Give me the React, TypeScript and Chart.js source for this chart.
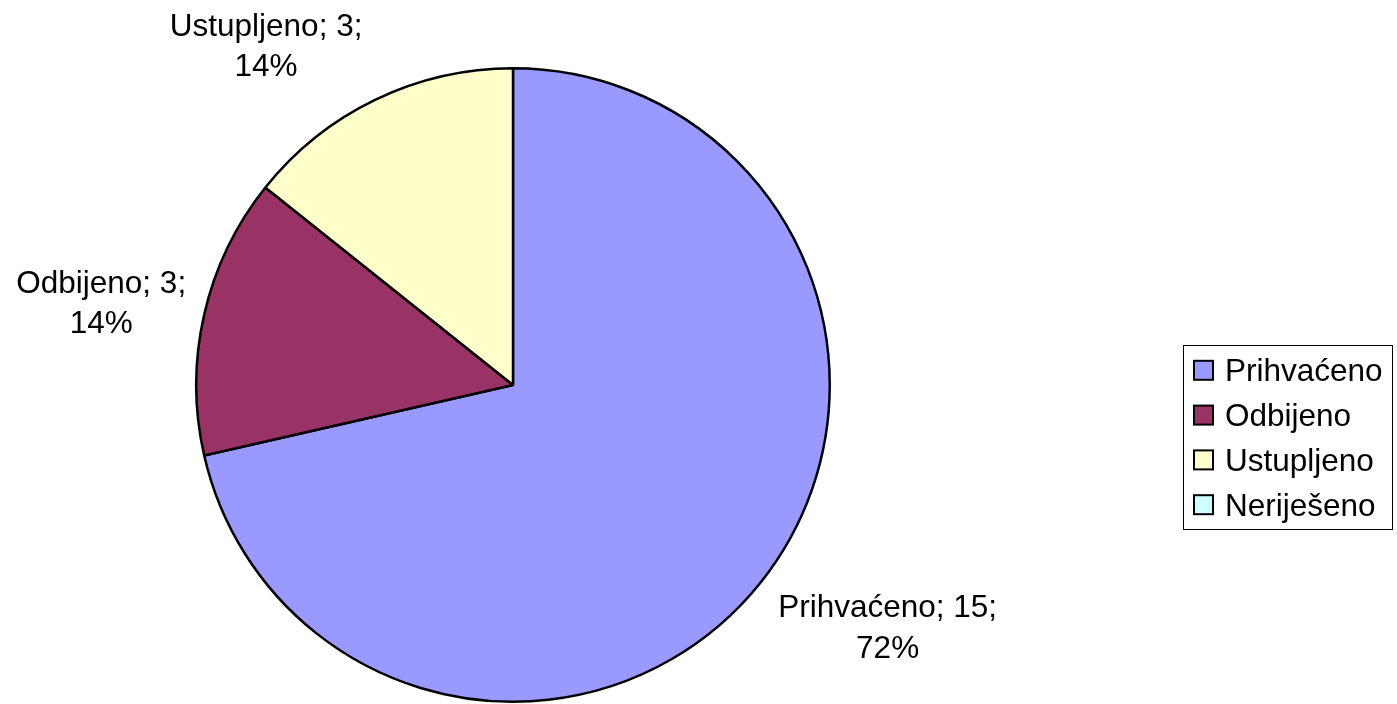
import React, { useEffect, useRef } from "react";
import { Chart, registerables } from "chart.js";

Chart.register(...registerables);

const categories = ["Prihvaćeno", "Odbijeno", "Ustupljeno", "Neriješeno"];
const counts = [15, 3, 3, 0];
const percents = [72, 14, 14, 0];
const colors = ["#9999FF", "#993366", "#FFFFCC", "#CCFFFF"];

// label placement (first-line baseline) relative to pie centre, in radius units
const labelOffsets: ([number, number] | null)[] = [
  [1.179, 0.731],
  [-1.296, -0.291],
  [-0.777, -1.099],
  null,
];

const FONT = '31.5px "Liberation Sans", Arial, sans-serif';

const labelsPlugin = {
  id: "sliceLabels",
  afterDraw(chart: any) {
    const ctx = chart.ctx;
    const meta = chart.getDatasetMeta(0);
    const arc0 = meta.data[0];
    if (!arc0) return;
    const cx = arc0.x;
    const cy = arc0.y;
    const r = arc0.outerRadius + 1;
    ctx.save();
    ctx.font = FONT;
    ctx.fillStyle = "#000";
    ctx.textAlign = "center";
    ctx.textBaseline = "alphabetic";
    categories.forEach((c, i) => {
      const off = labelOffsets[i];
      if (!off || counts[i] === 0) return;
      const x = cx + off[0] * r;
      const y = cy + off[1] * r;
      ctx.fillText(`${c}; ${counts[i]};`, x, y);
      ctx.fillText(`${percents[i]}%`, x, y + 40.5);
    });

    // legend
    const boxL = 1183.5, boxT = 345.5, boxW = 209, boxH = 184;
    ctx.lineWidth = 1;
    ctx.strokeStyle = "#000";
    ctx.strokeRect(boxL, boxT, boxW, boxH);
    ctx.textAlign = "left";
    categories.forEach((c, i) => {
      const yc = 370.3 + i * 44.8;
      ctx.fillStyle = colors[i];
      ctx.fillRect(1194, yc - 9.5, 19, 19);
      ctx.lineWidth = 2;
      ctx.strokeStyle = "#000";
      ctx.strokeRect(1194, yc - 9.5, 19, 19);
      ctx.fillStyle = "#000";
      ctx.fillText(c, 1225, yc + 11);
    });
    ctx.restore();
  },
};

export default function App() {
  const ref = useRef<HTMLCanvasElement | null>(null);
  useEffect(() => {
    document.body.style.margin = "0";
    const canvas = ref.current!;
    const chart = new Chart(canvas, {
      type: "pie",
      data: {
        labels: categories,
        datasets: [
          {
            data: counts,
            backgroundColor: colors,
            borderColor: "#000",
            borderWidth: 2.5,
          },
        ],
      },
      options: {
        responsive: false,
        animation: false,
        devicePixelRatio: 1,
        layout: { padding: { left: 195, right: 566, top: 67, bottom: 1 } },
        plugins: {
          legend: { display: false },
          tooltip: { enabled: false },
        },
      },
      plugins: [labelsPlugin],
    });
    return () => chart.destroy();
  }, []);
  return (
    <div style={{ position: "fixed", left: 0, top: 0, width: 1397, height: 704, background: "#fff" }}>
      <canvas ref={ref} width={1397} height={704} style={{ width: 1397, height: 704, display: "block" }} />
    </div>
  );
}
